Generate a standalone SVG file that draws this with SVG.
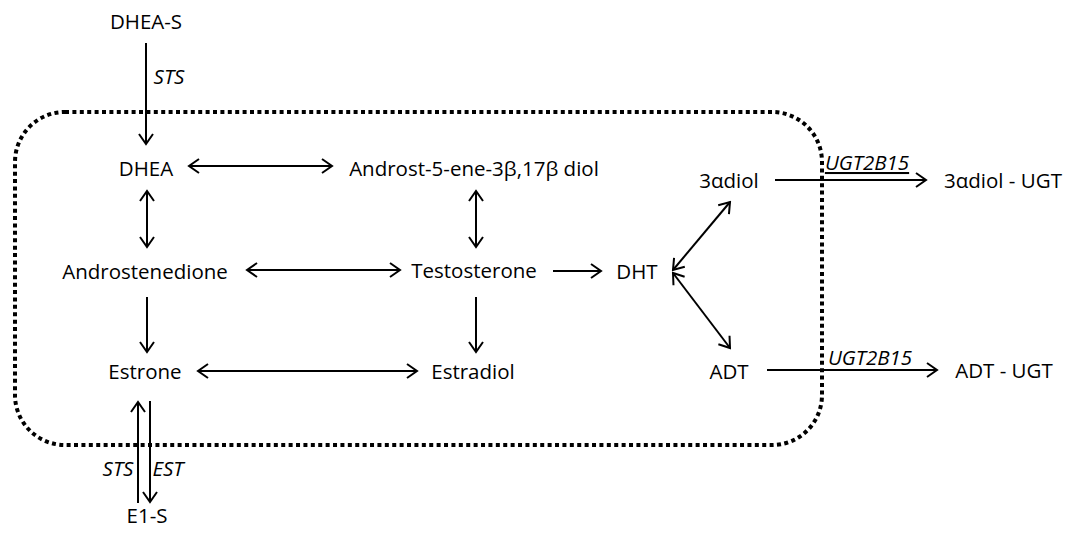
<svg xmlns="http://www.w3.org/2000/svg" width="1068" height="537" viewBox="0 0 1068 537">
<style>
text{font-family:"Open Sans","Liberation Sans",Arial,sans-serif;font-size:20.5px;fill:#000;text-anchor:middle}
.e{font-style:italic}
.c line{stroke:#000;stroke-width:2}
.box{fill:none;stroke:#000;stroke-width:4;stroke-dasharray:4 3.4}
</style>
<defs>
<marker id="a" viewBox="-12 -9 14 18" refX="0" refY="0" markerWidth="14" markerHeight="18" markerUnits="userSpaceOnUse" orient="auto-start-reverse">
<path d="M-10,-7 L0,0 L-10,7" fill="none" stroke="#000" stroke-width="2"/>
</marker>
</defs>
<rect class="box" x="15" y="112" width="807" height="333" rx="50" ry="50"/>
<g class="c">
<line x1="146" y1="43" x2="146" y2="144" marker-end="url(#a)"/>
<line x1="189" y1="166" x2="332" y2="166" marker-start="url(#a)" marker-end="url(#a)"/>
<line x1="147" y1="191" x2="147" y2="247" marker-start="url(#a)" marker-end="url(#a)"/>
<line x1="476" y1="191" x2="476" y2="247" marker-start="url(#a)" marker-end="url(#a)"/>
<line x1="247" y1="270" x2="400" y2="270" marker-start="url(#a)" marker-end="url(#a)"/>
<line x1="553" y1="271" x2="601" y2="271" marker-end="url(#a)"/>
<line x1="673" y1="270" x2="730" y2="202" marker-start="url(#a)" marker-end="url(#a)"/>
<line x1="673" y1="273" x2="730" y2="348" marker-start="url(#a)" marker-end="url(#a)"/>
<line x1="147" y1="297" x2="147" y2="352" marker-end="url(#a)"/>
<line x1="476" y1="297" x2="476" y2="352" marker-end="url(#a)"/>
<line x1="198" y1="371" x2="417" y2="371" marker-start="url(#a)" marker-end="url(#a)"/>
<line x1="775" y1="180" x2="926" y2="180" marker-end="url(#a)"/>
<line x1="767" y1="370" x2="937" y2="370" marker-end="url(#a)"/>
<line x1="138" y1="503" x2="138" y2="402" marker-end="url(#a)"/>
<line x1="150" y1="401" x2="150" y2="502" marker-end="url(#a)"/>
</g>
<g id="dheas"><text x="146" y="29">DHEA-S</text></g>
<g id="sts1"><text class="e" x="169" y="84">STS</text></g>
<g id="dhea"><text x="146" y="176">DHEA</text></g>
<g id="androstdiol"><text x="474" y="176">Androst-5-ene-3β,17β diol</text></g>
<g id="androstenedione"><text x="145" y="279">Androstenedione</text></g>
<g id="testosterone"><text x="474" y="278">Testosterone</text></g>
<g id="dht"><text x="637" y="279">DHT</text></g>
<g id="adiol"><text x="729" y="188">3αdiol</text></g>
<g id="adt"><text x="729" y="379">ADT</text></g>
<g id="estrone"><text x="145" y="379">Estrone</text></g>
<g id="estradiol"><text x="473" y="379">Estradiol</text></g>
<g id="e1s"><text x="147" y="523">E1-S</text></g>
<g id="sts2"><text class="e" x="118" y="476">STS</text></g>
<g id="est"><text class="e" x="168" y="476">EST</text></g>
<g id="ugt1"><text class="e" x="867" y="170" style="text-decoration:underline">UGT2B15</text></g>
<g id="ugt2"><text class="e" x="870" y="365">UGT2B15</text></g>
<g id="adiolugt"><text x="1003" y="188">3αdiol - UGT</text></g>
<g id="adtugt"><text x="1004" y="378">ADT - UGT</text></g>
</svg>
